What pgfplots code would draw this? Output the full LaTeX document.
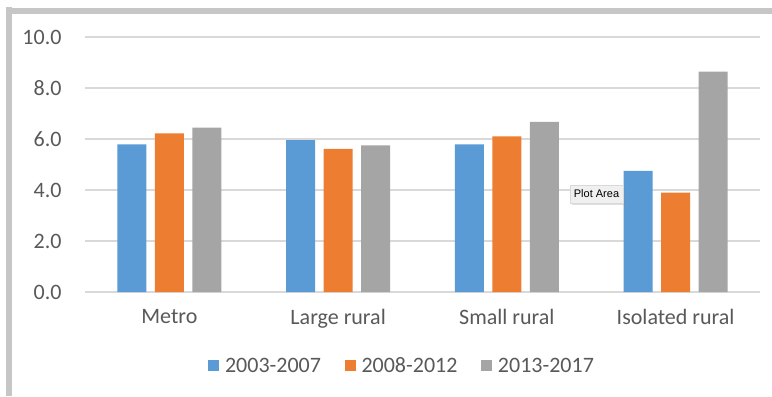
\documentclass[border=0pt]{standalone}
\usepackage{fontspec}
\setmainfont{Carlito}
\newfontfamily\tipfont{Liberation Sans}
\usepackage{pgfplots}
\pgfplotsset{compat=1.18}
\usetikzlibrary{shadows}

\definecolor{serA}{HTML}{5B9BD5}
\definecolor{serB}{HTML}{ED7D31}
\definecolor{serC}{HTML}{A5A5A5}
\definecolor{gridc}{HTML}{D9D9D9}
\definecolor{txt}{HTML}{595959}
\definecolor{frame}{HTML}{C6C6C6}

\begin{document}
\begin{tikzpicture}[x=1bp,y=1bp]
  % canvas and selection frame
  \fill[white] (0,0) rectangle (772,396);
  \useasboundingbox (0,0) rectangle (772,396);
  \fill[frame] (6,0) rectangle (12,389);
  \fill[frame] (6,382) rectangle (772,388);

  \begin{axis}[
    at={(85bp,104bp)}, anchor=south west,
    scale only axis, width=675bp, height=255bp,
    xmin=-0.5, xmax=3.5, ymin=0, ymax=10,
    xtick={0,1,2,3},
    xticklabels={Metro, Large rural, Small rural, Isolated rural},
    ytick={0,2,...,10},
    /pgf/number format/fixed,
    /pgf/number format/fixed zerofill,
    /pgf/number format/precision=1,
    /pgf/number format/assume math mode=true,
    ymajorgrids,
    grid style={draw=gridc, line width=1.5bp},
    axis line style={draw=none},
    major tick length=0pt,
    tick label style={font=\fontsize{22bp}{26bp}\selectfont, text=txt},
    yticklabel style={xshift=-20bp},
    xticklabel style={yshift=-14bp},
    clip=false,
    legend columns=3,
    legend style={
      at={(0.4696,-0.29)}, anchor=center, draw=none, fill=none,
      font=\fontsize{22bp}{26bp}\selectfont, text=txt,
      /tikz/every odd column/.append style={column sep=4bp},
      /tikz/every even column/.append style={column sep=21.5bp},
      inner sep=0pt,
    },
    legend image code/.code={\fill (0,-5.5bp) rectangle (11bp,5.5bp);},
  ]
    \addplot[ybar, bar width=0.172, bar shift=-0.222, fill=serA, draw=none]
      coordinates {(0,5.79) (1,5.96) (2,5.79) (3,4.75)};
    \addplot[ybar, bar width=0.172, bar shift=0, fill=serB, draw=none]
      coordinates {(0,6.22) (1,5.61) (2,6.10) (3,3.90)};
    \addplot[ybar, bar width=0.172, bar shift=0.222, fill=serC, draw=none]
      coordinates {(0,6.45) (1,5.75) (2,6.67) (3,8.64)};
    \legend{2003-2007, 2008-2012, 2013-2017}
  \end{axis}

  % hover tooltip
  \node[fill=white!94!black, draw=white!85!black, line width=0.4bp,
        drop shadow={opacity=0.25, shadow xshift=1.5bp, shadow yshift=-1.5bp},
        inner xsep=3bp, inner ysep=3bp, minimum width=53bp, minimum height=18bp,
        font=\tipfont\fontsize{11bp}{12bp}\selectfont]
    at (596.5,202) {Plot Area};
\end{tikzpicture}
\end{document}
